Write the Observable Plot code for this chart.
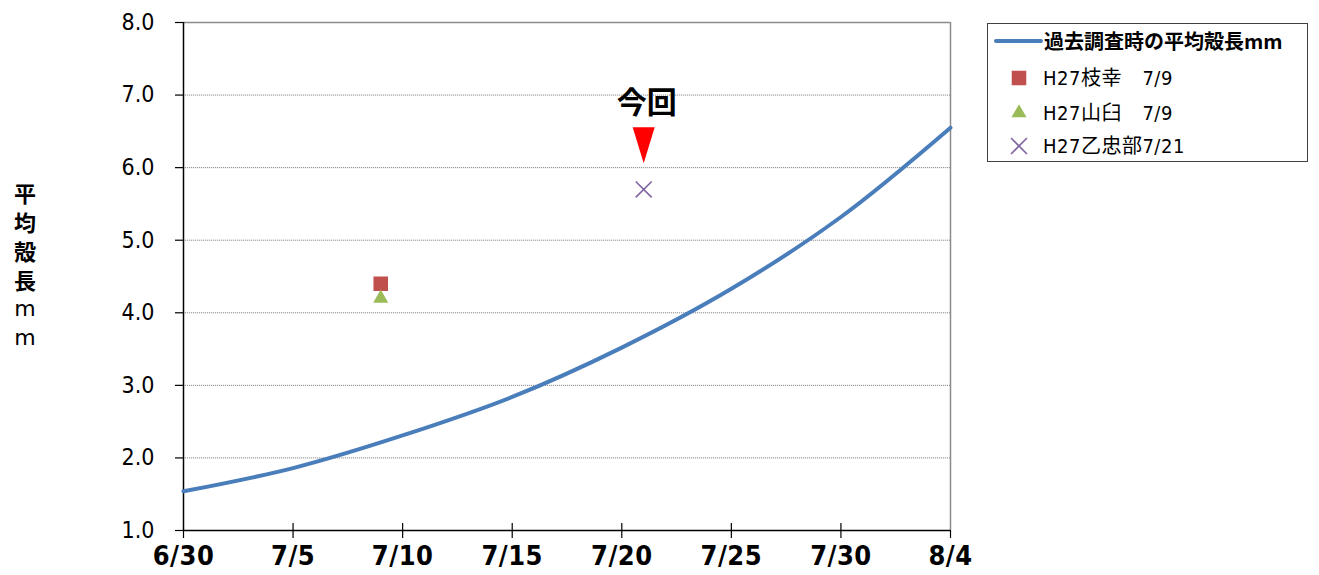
<!DOCTYPE html>
<html><head><meta charset="utf-8">
<script src="https://cdn.jsdelivr.net/npm/d3@7"></script>
<script src="https://cdn.jsdelivr.net/npm/@observablehq/plot@0.6"></script>
<style>
body{margin:0;background:#fff;}
#wrap{position:relative;width:1319px;height:575px;overflow:hidden;}
#chart{position:absolute;left:0;top:0;}
#ylab{position:absolute;left:5px;top:178px;width:40px;font-family:"Noto Sans CJK JP",sans-serif;font-weight:bold;font-size:22px;color:#000;text-align:center;}
#ylab div{height:29px;line-height:29px;}
#ylab div.l{font-weight:normal;font-family:"DejaVu Sans",sans-serif;}
#legend{position:absolute;left:987px;top:23px;width:321px;height:139px;box-sizing:border-box;border:1px solid #404040;background:#fff;}
#legend .row{position:absolute;left:0;height:30px;width:100%;}
#legend .txt{position:absolute;left:55px;top:0;line-height:30px;white-space:nowrap;font-family:"DejaVu Sans Condensed","Noto Sans CJK JP",sans-serif;font-stretch:condensed;font-size:20px;color:#000;letter-spacing:0.5px;}
#legend .txt.b{font-family:"Noto Sans CJK JP",sans-serif;font-weight:bold;letter-spacing:0;font-stretch:normal;}
#legend svg{position:absolute;left:0;top:0;}
</style></head><body>
<div id="wrap"><div id="chart"></div><div id="ylab"></div><div id="legend"></div></div>
<script>
// ---- data ----
const curveDates = ["2015-06-30","2015-07-05","2015-07-10","2015-07-15","2015-07-20","2015-07-25","2015-07-30","2015-08-04"];
const curveValues = [1.54, 1.86, 2.31, 2.84, 3.52, 4.33, 5.32, 6.55];
const lineLabel = "過去調査時の平均殻長mm";
const sampleNames = ["H27枝幸　7/9", "H27山臼　7/9", "H27乙忠部7/21"];
const sampleDates = ["2015-07-09", "2015-07-09", "2015-07-21"];
const sampleValues = [4.4, 4.2, 5.7];
const sampleSymbols = ["square", "triangle", "times"];
const sampleColors = ["#c0504d", "#9bbb59", "#8064a2"];
const xTickDates = ["2015-06-30","2015-07-05","2015-07-10","2015-07-15","2015-07-20","2015-07-25","2015-07-30","2015-08-04"];
const yTicks = [1, 2, 3, 4, 5, 6, 7, 8];
const yTitle = "平均殻長ｍｍ";
const noteLabel = "今回";
const noteDate = "2015-07-21";
const noteArrowValue = 6.31;
const noteTextValue = 6.88;

// ---- build ----
const P = s => new Date(s + "T00:00:00Z");
const curve = curveDates.map((d, i) => ({date: P(d), value: curveValues[i]}));
const symR = {square: 8.2, triangle: 5.6, times: 7.3};
const samples = sampleNames.map((n, i) => ({name: n, date: P(sampleDates[i]), value: sampleValues[i], symbol: sampleSymbols[i], color: sampleColors[i]}));
const xt = xTickDates.map(P);
const W = 1319, H = 575, mL = 183, mR = 369, mT = 22, mB = 45;
const frameH = H - mT - mB;

const arrowSymbol = {
  draw(ctx, size) {
    const h = Math.sqrt(size);
    ctx.moveTo(-0.306 * h, -0.5 * h);
    ctx.lineTo(0.306 * h, -0.5 * h);
    ctx.lineTo(0, 0.5 * h);
    ctx.closePath();
  }
};

const fmt = d => `${d.getUTCMonth() + 1}/${d.getUTCDate()}`;

const chart = Plot.plot({
  width: W, height: H,
  marginLeft: mL, marginRight: mR, marginTop: mT, marginBottom: mB,
  x: {type: "utc", domain: [xt[0], xt[xt.length - 1]]},
  y: {domain: [1, 8]},
  r: {type: "identity"},
  style: {background: "#fff", overflow: "visible"},
  marks: [
    Plot.gridY(yTicks.slice(1, -1), {stroke: "#8c8c8c", strokeOpacity: 1, strokeWidth: 1, strokeDasharray: "1.2,0.8"}),
    Plot.ruleY([8], {stroke: "#8c8c8c", strokeWidth: 1.5}),
    Plot.ruleX([xt[xt.length - 1]], {stroke: "#8c8c8c", strokeWidth: 1.5}),
    Plot.ruleX([xt[0]], {stroke: "#000", strokeWidth: 1.5}),
    Plot.ruleY([1], {stroke: "#000", strokeWidth: 1.5}),
    Plot.ruleX(xt.slice(1, -1), {stroke: "#000", strokeWidth: 1.2, insetTop: frameH - 7}),
    Plot.axisY(yTicks, {tickSize: 8, tickPadding: 21, tickFormat: d3.format(".1f"), fontSize: 23, fontFamily: "DejaVu Sans Condensed", color: "#000", label: null, strokeWidth: 1.2}),
    Plot.axisX(xt, {tickSize: 8, tickPadding: 7, tickFormat: fmt, fontSize: 27, fontWeight: "bold", fontFamily: "DejaVu Sans Condensed", color: "#000", label: null, strokeWidth: 1.2}),
    Plot.line(curve, {x: "date", y: "value", stroke: "#4a7ebb", strokeWidth: 4, curve: "catmull-rom"}),
    Plot.dot(samples, {x: "date", y: "value", symbol: "symbol", fill: d => d.symbol === "times" ? "none" : d.color, stroke: d => d.symbol === "times" ? d.color : "none", strokeWidth: 1.6,
      r: d => symR[d.symbol]}),
    Plot.dot([{date: P(noteDate), value: noteArrowValue}], {x: "date", y: "value", symbol: arrowSymbol, r: 20.3, fill: "#ff0000", stroke: "none"}),
    Plot.text([{date: P(noteDate), value: noteTextValue}], {x: "date", y: "value", text: () => noteLabel, fontSize: 30, fontWeight: "bold", fontFamily: "Noto Sans CJK JP", fill: "#000", dx: 3})
  ]
});
d3.select(chart).selectAll('g[aria-label="x-axis tick label"] text').style("font-stretch", "condensed").style("letter-spacing", "0.5px");
d3.select(chart).selectAll('g[aria-label="y-axis tick label"] text').style("font-stretch", "condensed");
document.getElementById("chart").appendChild(chart);

// y title
const yl = document.getElementById("ylab");
for (const ch of yTitle) { const dv = document.createElement("div"); if (ch === "ｍ") dv.className = "l"; dv.textContent = ch === "ｍ" ? "m" : ch; yl.appendChild(dv); }

// legend
const lg = document.getElementById("legend");
const rowsY = [2, 39, 74, 107];
function addRow(i, label, bold, drawFn) {
  const row = document.createElement("div");
  row.className = "row"; row.style.top = rowsY[i] + "px";
  const svg = d3.create("svg").attr("width", 55).attr("height", 30);
  drawFn(svg);
  row.appendChild(svg.node());
  const t = document.createElement("div");
  t.className = "txt" + (bold ? " b" : ""); t.textContent = label;
  if (bold) t.style.left = "56px";
  row.appendChild(t);
  lg.appendChild(row);
}
addRow(0, lineLabel, true, svg => svg.append("line").attr("x1", 8).attr("x2", 53).attr("y1", 15).attr("y2", 15).attr("stroke", "#4a7ebb").attr("stroke-width", 4).attr("stroke-linecap", "round"));
const symMap = {square: d3.symbolSquare, triangle: d3.symbolTriangle, times: d3.symbolTimes};
samples.forEach((s, i) => {
  addRow(i + 1, s.name, false, svg => {
    const r = symR[s.symbol];
    svg.append("path").attr("transform", "translate(31,15)")
      .attr("d", d3.symbol(symMap[s.symbol], Math.PI * r * r)())
      .attr("fill", s.symbol === "times" ? "none" : s.color)
      .attr("stroke", s.symbol === "times" ? s.color : "none").attr("stroke-width", 1.6);
  });
});
</script>
</body></html>
